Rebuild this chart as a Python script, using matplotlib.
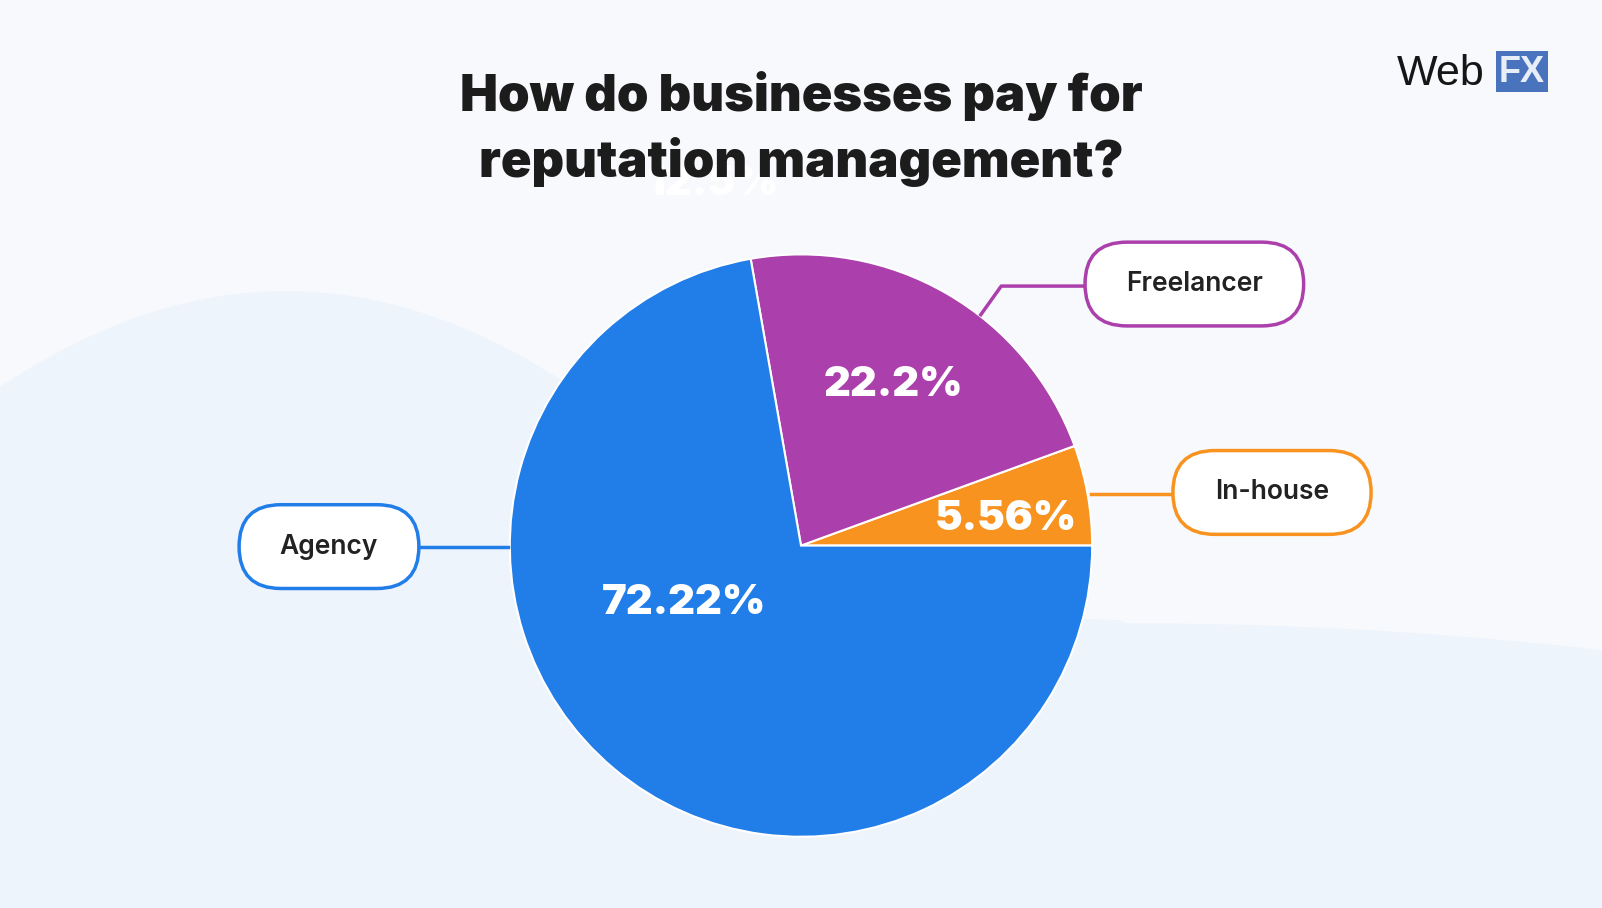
import matplotlib
matplotlib.use("Agg")
import matplotlib.pyplot as plt
from matplotlib.patches import FancyBboxPatch, Polygon
import numpy as np

categories = ["In-house", "Freelancer", "Agency"]
values = [5.56, 22.2, 72.22]
pct_labels = ["5.56%", "22.2%", "72.22%"]
colors = ["#f7931e", "#ab3fab", "#217de8"]

W, H = 1602, 908
k = 1602 / 1568
fig = plt.figure(figsize=(W/100, H/100), dpi=100)
fig.patch.set_facecolor("#f7f9fd")
ax = fig.add_axes([0, 0, 1, 1])
X = lambda px: px * k
Y = lambda py: H - py * k

# background wave
xs = np.linspace(0, 1568, 300)
wave_y = []
for x in xs:
    if x < 600:
        wave_y.append(Y(285 + 0.0012*(x-280)**2))
    elif x < 1100:
        wave_y.append(Y(400 + 210*np.tanh((x-600)/200)))
    else:
        wave_y.append(Y(610 + 0.00012*(x-1100)**2))
poly = [(0, 0)] + [(X(a), b) for a, b in zip(xs, wave_y)] + [(W, 0)]
ax.add_patch(Polygon(poly, closed=True, fc="#eef4fc", ec="none", zorder=0))

cx, cy, r = X(784), Y(534), 285 * k
wedges, _ = ax.pie(values, colors=colors, startangle=0, counterclock=True,
                   center=(cx, cy), radius=r, frame=True,
                   wedgeprops=dict(edgecolor="white", linewidth=1.5))
for w in wedges:
    w.set_zorder(2)
ax.set_xlim(0, W); ax.set_ylim(0, H); ax.set_aspect("equal"); ax.axis("off")

pct_pos = [(985, 508), (874, 377), (670, 590)]
for t, (px, py) in zip(pct_labels, pct_pos):
    ax.text(X(px), Y(py), t, color="white", fontsize=30, fontweight="black",
            ha="center", va="center", family="Inter", zorder=3)
ax.text(X(697), Y(180), "12.5%", color="white", fontsize=30, fontweight="black",
        ha="center", va="center", family="Inter", zorder=1)

# label boxes
boxes = [("In-house", 1245, 482, 194, 82, colors[0]),
         ("Freelancer", 1169, 278, 214, 82, colors[1]),
         ("Agency", 322, 535, 176, 82, colors[2])]
for name, bx, by, bw, bh, c in boxes:
    w_, h_ = bw * k, bh * k
    ax.add_patch(FancyBboxPatch((X(bx) - w_/2, Y(by) - h_/2), w_, h_,
                 boxstyle="round,pad=0,rounding_size=%f" % (h_/2),
                 fc="white", ec=c, lw=2.5, zorder=4))
    ax.text(X(bx), Y(by), name, fontsize=19, ha="center", va="center",
            family="Inter", fontweight="semibold", color="#222222", zorder=5)
# connectors
ax.plot([X(1068), X(1148)], [Y(484), Y(484)], color=colors[0], lw=2.5, zorder=3)
ax.plot([X(960), X(980), X(1062)], [Y(308), Y(280), Y(280)], color=colors[1], lw=2.5, zorder=3)
ax.plot([X(412), X(497)], [Y(535), Y(535)], color=colors[2], lw=2.5, zorder=3)

ax.text(X(784), Y(126), "How do businesses pay for\nreputation management?", fontsize=36.5,
        fontweight="black", ha="center", va="center", family="Inter",
        color="#1c1c1c", linespacing=1.4, zorder=6)

# logo
ax.text(X(1367), Y(72), "Web", fontsize=31, ha="left", va="center", family="Liberation Sans", color="#161616", zorder=6)
ax.add_patch(plt.Rectangle((X(1464), Y(90)), 51*k, 40*k, fc="#4a73bd", zorder=6))
ax.text(X(1489.5), Y(71), "FX", fontsize=26, fontweight="bold", ha="center", va="center",
        family="Liberation Sans", color="#e8eef7", zorder=7)

fig.savefig("out.png", dpi=100, facecolor=fig.get_facecolor())
